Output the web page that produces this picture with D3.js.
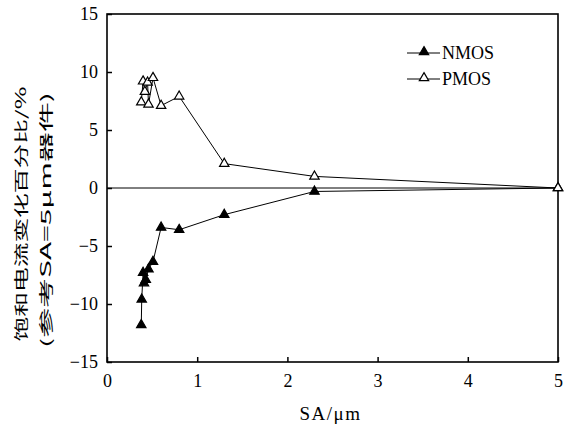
<!DOCTYPE html>
<html><head><meta charset="utf-8">
<script src="https://cdn.jsdelivr.net/npm/d3@7"></script>
<style>body{margin:0;background:#fff}svg{display:block}</style>
</head><body>
<svg id="c" width="575" height="427"></svg>
<script>
const xTicks = [0, 1, 2, 3, 4, 5];
const yTicks = [-15, -10, -5, 0, 5, 10, 15];
const seriesNames = ["NMOS", "PMOS"];
const nmosSA = [0.38, 0.385, 0.40, 0.41, 0.43, 0.46, 0.51, 0.60, 0.80, 1.30, 2.30, 5.0];
const nmosVal = [-11.8, -9.6, -7.3, -8.2, -7.9, -7.0, -6.35, -3.4, -3.6, -2.3, -0.3, 0];
const pmosSA = [0.38, 0.40, 0.42, 0.45, 0.46, 0.51, 0.60, 0.80, 1.30, 2.30, 5.0];
const pmosVal = [7.4, 9.2, 8.3, 9.1, 7.2, 9.5, 7.1, 7.9, 2.1, 1.0, 0];

const SERIF = '"Liberation Serif", "DejaVu Serif", serif';
const svg = d3.select("#c");
const L = 107, R = 558, T = 14, B = 362;
const x = d3.scaleLinear().domain([0, 5]).range([L, R]);
const y = d3.scaleLinear().domain([-15, 15]).range([B, T]);

// zero line
svg.append("line").attr("x1", L).attr("x2", R).attr("y1", y(0)).attr("y2", y(0))
  .attr("stroke", "#000").attr("stroke-width", 1);

// axes
const ax = svg.append("g").attr("transform", `translate(0,${B})`)
  .call(d3.axisBottom(x).tickValues(xTicks).tickSizeInner(-5).tickSizeOuter(0).tickPadding(12).tickFormat(d3.format("d")));
const ay = svg.append("g").attr("transform", `translate(${L},0)`)
  .call(d3.axisLeft(y).tickValues(yTicks).tickSizeInner(-5).tickSizeOuter(0).tickPadding(9)
    .tickFormat(d => d < 0 ? "\u2212" + Math.abs(d) : d));
[ax, ay].forEach(g => {
  g.attr("font-family", SERIF).attr("font-size", 18);
  g.select(".domain").remove();
  g.selectAll("line").attr("stroke", "#000").attr("stroke-width", 1.5);
  g.selectAll("text").style("font-family", SERIF).style("font-size", "18px").attr("fill", "#000");
});
// frame
svg.append("rect").attr("x", L).attr("y", T).attr("width", R - L).attr("height", B - T)
  .attr("fill", "none").attr("stroke", "#000").attr("stroke-width", 1.6);

const tri = d3.symbol().type(d3.symbolTriangle).size(38);
function drawSeries(xs, ys, filled) {
  const pts = xs.map((v, i) => [x(v), y(ys[i])]);
  svg.append("path").attr("d", d3.line()(pts)).attr("fill", "none")
    .attr("stroke", "#000").attr("stroke-width", 1);
  svg.append("g").selectAll("path").data(pts).join("path")
    .attr("transform", d => `translate(${d[0]},${d[1]})`)
    .attr("d", tri).attr("fill", filled ? "#000" : "#fff")
    .attr("stroke", "#000").attr("stroke-width", 1.2);
}
drawSeries(nmosSA, nmosVal, true);
drawSeries(pmosSA, pmosVal, false);

// legend
seriesNames.forEach((n, i) => {
  const ly = 53 + i * 26;
  svg.append("line").attr("x1", 407).attr("x2", 440).attr("y1", ly).attr("y2", ly)
    .attr("stroke", "#000").attr("stroke-width", 1);
  svg.append("path").attr("transform", `translate(424,${ly - 1})`).attr("d", tri)
    .attr("fill", i === 0 ? "#000" : "#fff").attr("stroke", "#000").attr("stroke-width", 1.2);
  svg.append("text").attr("x", 442).attr("y", ly + 6).text(n)
    .style("font-family", SERIF).style("font-size", "18px");
});

// axis titles
svg.append("text").attr("x", x(2.5) - 2).attr("y", 420).attr("text-anchor", "middle")
  .style("font-family", SERIF).style("font-size", "19px").style("letter-spacing", "1.5px").text("SA/\u03bcm");
const cjk = '"Noto Sans CJK SC", sans-serif';
svg.append("text").attr("transform", "translate(26,214) rotate(-90)").attr("text-anchor", "middle")
  .style("font-family", cjk).style("font-size", "14px")
  .attr("textLength", 255).attr("lengthAdjust", "spacingAndGlyphs")
  .text("饱和电流变化百分比/%");
svg.append("text").attr("transform", "translate(51,220) rotate(-90)").attr("text-anchor", "middle")
  .style("font-family", cjk).style("font-size", "14px")
  .attr("textLength", 256).attr("lengthAdjust", "spacingAndGlyphs")
  .text("(参考SA=5μm器件)");
</script>
</body></html>
